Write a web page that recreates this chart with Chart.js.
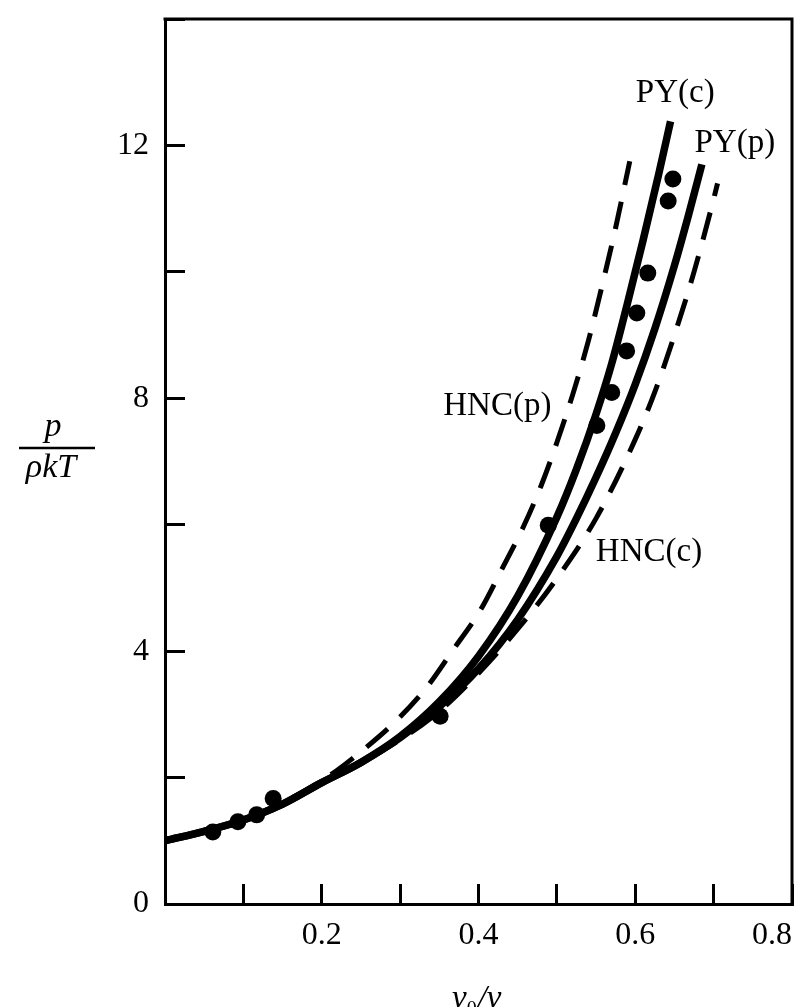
<!DOCTYPE html>
<html>
<head>
<meta charset="utf-8">
<script src="https://cdn.jsdelivr.net/npm/chart.js@4.4.0/dist/chart.umd.min.js"></script>
<style>
html,body{margin:0;padding:0;background:#fff;}
#wrap{width:808px;height:1007px;position:relative;overflow:hidden;}
canvas{display:block;}
</style>
</head>
<body>
<div id="wrap"><canvas id="c" width="808" height="1007"></canvas></div>
<script>
// ---- data ----
const curveNames = ['PY(c)', 'PY(p)', 'HNC(p)', 'HNC(c)'];

const pyCx = [0, 0.05, 0.1, 0.15, 0.2, 0.25, 0.3, 0.35, 0.4, 0.45, 0.5, 0.525, 0.55, 0.57, 0.59, 0.61, 0.63, 0.645];
const pyCy = [1.0, 1.15, 1.33, 1.58, 1.92, 2.24, 2.65, 3.2, 3.92, 4.87, 6.12, 6.88, 7.75, 8.55, 9.5, 10.5, 11.55, 12.38];

const pyPx = [0, 0.05, 0.1, 0.15, 0.2, 0.25, 0.3, 0.35, 0.4, 0.45, 0.5, 0.525, 0.55, 0.575, 0.6, 0.625, 0.65, 0.668, 0.685];
const pyPy = [1.0, 1.15, 1.33, 1.58, 1.92, 2.24, 2.63, 3.12, 3.72, 4.5, 5.5, 6.1, 6.75, 7.45, 8.22, 9.1, 10.1, 10.9, 11.7];

const hncPx = [0, 0.1, 0.2, 0.255, 0.296, 0.334, 0.367, 0.402, 0.43, 0.457, 0.48, 0.5, 0.52, 0.54, 0.56, 0.575, 0.593];
const hncPy = [1.0, 1.33, 1.95, 2.46, 2.91, 3.43, 4.01, 4.64, 5.3, 5.96, 6.62, 7.3, 8.05, 8.9, 9.9, 10.7, 11.75];

const hncCx = [0, 0.1, 0.2, 0.3, 0.35, 0.4, 0.45, 0.5, 0.55, 0.6, 0.625, 0.65, 0.675, 0.7, 0.705];
const hncCy = [1.0, 1.32, 1.9, 2.6, 3.05, 3.65, 4.35, 5.15, 6.1, 7.35, 8.1, 9.0, 10.0, 11.15, 11.4];

const simX = [0.061, 0.093, 0.117, 0.138, 0.351, 0.489, 0.551, 0.570, 0.589, 0.602, 0.616, 0.642, 0.648];
const simY = [1.14, 1.30, 1.41, 1.67, 2.97, 5.99, 7.57, 8.09, 8.75, 9.35, 9.98, 11.12, 11.47];

const xTickLabels = ['0.2', '0.4', '0.6', '0.8'];
const yTickLabels = ['0', '4', '8', '12'];

// label anchors (data coordinates) for curve names
const labelAnchors = [[0.651, 12.83], [0.727, 12.04], [0.424, 7.88], [0.6175, 5.56]];

// ---- styling / chart ----
const INK = '#000000';
const SERIF = '"Liberation Serif", "Times New Roman", serif';
const pts = (xs, ys) => xs.map((v, i) => ({x: v, y: ys[i]}));

const lineDs = (label, xs, ys, dashed) => ({
  type: 'line',
  label,
  data: pts(xs, ys),
  borderColor: INK,
  borderWidth: dashed ? 5 : 7.5,
  borderDash: dashed ? [28, 17] : [],
  borderCapStyle: 'butt',
  pointRadius: 0,
  fill: false,
  cubicInterpolationMode: 'monotone'
});

const decor = {
  id: 'decor',
  afterDraw(chart) {
    const {ctx, chartArea: a, scales: {x, y}} = chart;
    ctx.save();
    // frame top and right
    ctx.strokeStyle = INK;
    ctx.lineWidth = 3;
    ctx.lineCap = 'square';
    ctx.beginPath();
    ctx.moveTo(a.left, a.top);
    ctx.lineTo(a.right, a.top);
    ctx.lineTo(a.right, a.bottom);
    ctx.stroke();

    // curve names
    ctx.fillStyle = INK;
    ctx.font = '33px ' + SERIF;
    ctx.textAlign = 'center';
    ctx.textBaseline = 'middle';
    curveNames.forEach((n, i) => {
      ctx.fillText(n, x.getPixelForValue(labelAnchors[i][0]), y.getPixelForValue(labelAnchors[i][1]));
    });

    // y-axis title as a fraction p / (rho k T)
    ctx.font = 'italic 34px ' + SERIF;
    ctx.textBaseline = 'alphabetic';
    ctx.fillText('p', 53, 436);
    ctx.lineWidth = 2.5;
    ctx.lineCap = 'butt';
    ctx.beginPath();
    ctx.moveTo(19, 448);
    ctx.lineTo(95, 448);
    ctx.stroke();
    ctx.fillText('\u03C1kT', 51, 477);

    // x-axis title v0/v
    const base = 1008;
    ctx.textAlign = 'left';
    let px = 452;
    ctx.font = 'italic 33px ' + SERIF;
    ctx.fillText('v', px, base);
    px += ctx.measureText('v').width;
    ctx.font = '20px ' + SERIF;
    ctx.fillText('0', px, base + 7);
    px += ctx.measureText('0').width + 1;
    ctx.font = 'italic 33px ' + SERIF;
    ctx.fillText('/v', px, base);
    ctx.restore();
  }
};

new Chart(document.getElementById('c'), {
  data: {
    datasets: [
      {
        type: 'scatter',
        label: 'simulation',
        data: pts(simX, simY),
        pointRadius: 8.5,
        pointBackgroundColor: INK,
        pointBorderWidth: 0,
        showLine: false
      },
      lineDs(curveNames[0], pyCx, pyCy, false),
      lineDs(curveNames[1], pyPx, pyPy, false),
      lineDs(curveNames[2], hncPx, hncPy, true),
      lineDs(curveNames[3], hncCx, hncCy, true)
    ]
  },
  options: {
    responsive: false,
    animation: false,
    devicePixelRatio: 1,
    layout: {padding: {top: 19, right: 16, left: 0, bottom: 0}},
    plugins: {legend: {display: false}, tooltip: {enabled: false}},
    scales: {
      x: {
        type: 'linear',
        min: 0, max: 0.8,
        afterFit(s) { s.height = 103; s.paddingLeft = 0; s.paddingRight = 0; },
        ticks: {
          stepSize: 0.1,
          autoSkip: false,
          maxRotation: 0,
          align: 'inner',
          padding: 32,
          color: INK,
          font: {family: SERIF, size: 32},
          callback: v => { const s = Number(v).toFixed(1); return xTickLabels.includes(s) ? s : ''; }
        },
        grid: {drawOnChartArea: false, drawTicks: true, tickLength: -20, tickWidth: 3, color: INK},
        border: {display: true, color: INK, width: 3}
      },
      y: {
        type: 'linear',
        min: 0, max: 14,
        afterFit(s) { s.width = 165; s.paddingTop = 0; s.paddingBottom = 0; },
        ticks: {
          stepSize: 2,
          autoSkip: false,
          padding: 36,
          color: INK,
          font: {family: SERIF, size: 32},
          callback: v => { const s = String(Math.round(v)); return yTickLabels.includes(s) ? s : ''; }
        },
        grid: {drawOnChartArea: false, drawTicks: true, tickLength: -20, tickWidth: 3, color: INK},
        border: {display: true, color: INK, width: 3}
      }
    }
  },
  plugins: [decor]
});
</script>
</body>
</html>
